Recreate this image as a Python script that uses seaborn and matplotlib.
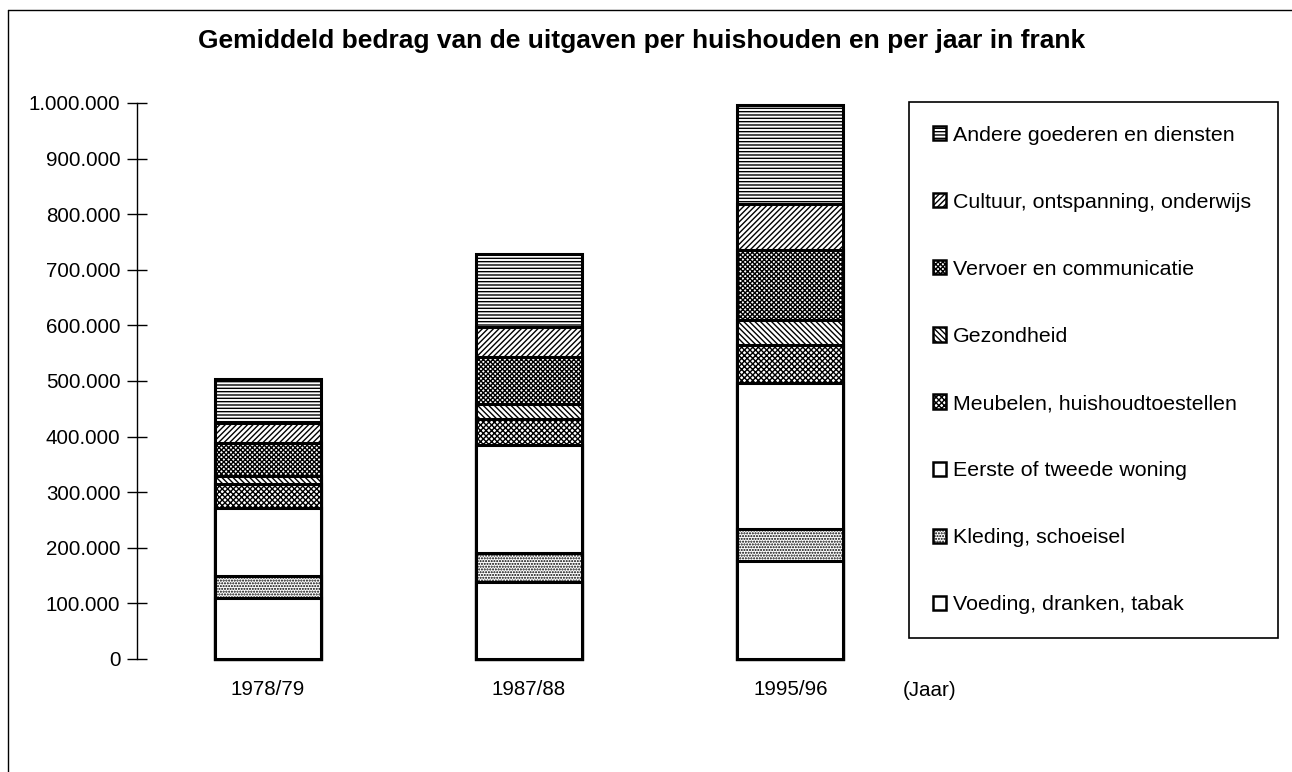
import numpy as np
import pandas as pd
import matplotlib
matplotlib.use('Agg')
import matplotlib.pyplot as plt
import seaborn as sns
from matplotlib.patches import Patch
from matplotlib.lines import Line2D
from matplotlib.ticker import FuncFormatter

# === Daten (in frank) ===
jaren = ['1978/79', '1987/88', '1995/96']
categorieen = ['Voeding, dranken, tabak', 'Kleding, schoeisel', 'Eerste of tweede woning',
               'Meubelen, huishoudtoestellen', 'Gezondheid', 'Vervoer en communicatie',
               'Cultuur, ontspanning, onderwijs', 'Andere goederen en diensten']
voeding = [110000, 138000, 176000]
kleding = [40000, 52000, 58000]
woning = [122000, 195000, 263000]
meubelen = [43000, 47000, 67000]
gezondheid = [15000, 27000, 45000]
vervoer = [58000, 84000, 127000]
cultuur = [37000, 55000, 82000]
andere = [78000, 130000, 178000]
reeksen = [voeding, kleding, woning, meubelen, gezondheid, vervoer, cultuur, andere]

# arcering per categorie (zwart-wit zoals het origineel)
arceringen = ['', '......', '', 'xxxxxx', '\\\\\\\\\\\\', 'xxxxxxx', '//////', '-----']

rows = []
for cat, vals in zip(categorieen, reeksen):
    for jaar, v in zip(jaren, vals):
        rows.append({'jaar': jaar, 'categorie': cat, 'bedrag': v})
df = pd.DataFrame(rows)
df['cum'] = df.groupby('jaar')['bedrag'].cumsum()

sns.set_theme(style='white')
plt.rcParams['font.family'] = ['Liberation Sans', 'DejaVu Sans']
plt.rcParams['text.color'] = 'black'
plt.rcParams['axes.labelcolor'] = 'black'
plt.rcParams['xtick.color'] = 'black'
plt.rcParams['ytick.color'] = 'black'
plt.rcParams['hatch.linewidth'] = 1.0

fig = plt.figure(figsize=(12.92, 7.72), dpi=100)
ax = fig.add_axes([137 / 1292, 1 - 659 / 772, (921 - 137) / 1292, (659 - 103) / 772])

# gestapelde staven: cumulatieve totalen van boven naar onder over elkaar tekenen
for cat, h in zip(categorieen[::-1], arceringen[::-1]):
    sub = df[df['categorie'] == cat]
    n0 = len(ax.patches)
    sns.barplot(data=sub, x='jaar', y='cum', order=jaren, color='white', saturation=1,
                edgecolor='black', linewidth=2.2, width=0.405, errorbar=None, ax=ax)
    for p in ax.patches[n0:]:
        p.set_hatch(h)
        p.set_clip_on(False)

ax.set_xlim(-0.5, 2.5)
ax.set_ylim(0, 1000000)
ax.set_yticks(np.arange(0, 1000001, 100000))
ax.yaxis.set_major_formatter(FuncFormatter(lambda v, pos: f'{v:,.0f}'.replace(',', '.')))
ax.set_xlabel('')
ax.set_ylabel('')
for s in ['top', 'right', 'bottom']:
    ax.spines[s].set_visible(False)
ax.spines['left'].set_color('black')
ax.spines['left'].set_linewidth(1)
ax.tick_params(axis='y', direction='inout', length=14, width=1, color='black',
               labelsize=14.8, labelcolor='black', pad=5, left=True)
ax.tick_params(axis='x', length=0, labelsize=14.8, labelcolor='black', pad=15)
ax.set_facecolor('white')

fig.text(930 / 1292, 1 - 690 / 772, '(Jaar)', ha='center', va='center', fontsize=14.8)
fig.text(642 / 1292, 1 - 48 / 772, 'Gemiddeld bedrag van de uitgaven per huishouden en per jaar in frank',
         ha='center', va='baseline', fontsize=19, fontweight='bold')

# legenda (omgekeerde volgorde, zoals in het origineel)
handles = [Patch(facecolor='white', edgecolor='black', hatch=h, linewidth=1.8) for h in arceringen]
leg = fig.legend(handles[::-1], categorieen[::-1], loc='upper left',
                 bbox_to_anchor=(909 / 1292, 1 - 102 / 772, 369 / 1292, 0.0), mode='expand',
                 bbox_transform=fig.transFigure, borderaxespad=0, frameon=True, fancybox=False,
                 edgecolor='black', framealpha=1, fontsize=15.4, labelspacing=2.25, borderpad=1.1,
                 handlelength=0.65, handleheight=0.65, handletextpad=0.3)
leg.get_frame().set_linewidth(1.2)

# rand rond de figuur (alleen links en boven zichtbaar)
fig.add_artist(Line2D([8 / 1292, 8 / 1292], [0, 1 - 10 / 772], color='black', linewidth=1))
fig.add_artist(Line2D([8 / 1292, 1], [1 - 10 / 772, 1 - 10 / 772], color='black', linewidth=1))

fig.savefig('out.png', dpi=100, facecolor='white')
